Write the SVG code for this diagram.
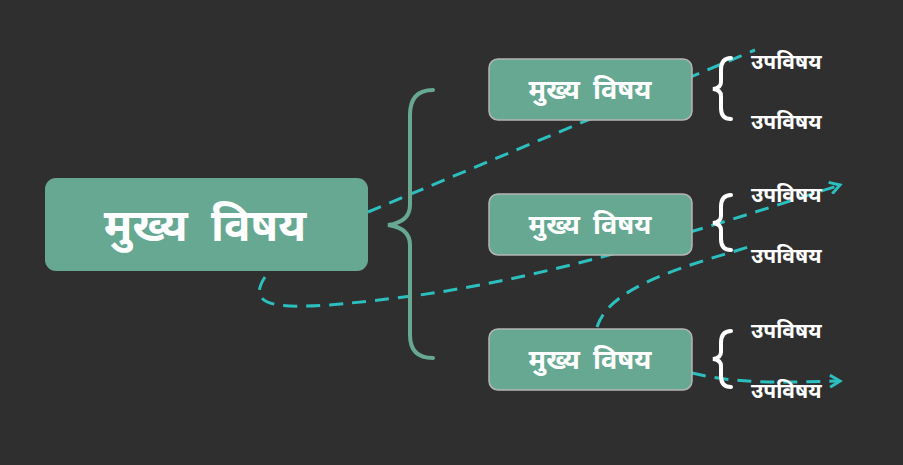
<svg xmlns="http://www.w3.org/2000/svg" width="903" height="465" viewBox="0 0 903 465">
<defs>
<style>
.node{fill:#66a892}
.branch{fill:#66a892;stroke:#b5b5b5;stroke-width:1.5}
.t{fill:#ffffff;font-family:"Noto Sans","DejaVu Sans",sans-serif;font-weight:bold;text-anchor:middle}
.sub{fill:#ffffff;font-family:"Noto Sans","DejaVu Sans",sans-serif;font-size:21px;font-weight:bold}
.brace{fill:none;stroke:#ffffff;stroke-width:4;stroke-linecap:round}
.dash{fill:none;stroke:#2bbfbf;stroke-width:3;stroke-dasharray:14 9}
</style>
<marker id="arr" markerWidth="14" markerHeight="14" refX="11" refY="7" orient="auto" markerUnits="userSpaceOnUse">
<path d="M1,1 L11,7 L1,13" fill="none" stroke="#2bbfbf" stroke-width="3"/>
</marker>
</defs>
<rect width="903" height="465" fill="#2f2f2f"/>
<g id="connectors">
<path class="dash" d="M368,212 L755,50"/>
<path class="dash" d="M265,277 C240,315 300,310 420,295 C560,275 700,230 840,185" marker-end="url(#arr)"/>
<path class="dash" d="M597,327 C610,285 690,265 755,245"/>
<path class="dash" d="M692,373 C740,385 790,382 840,381" marker-end="url(#arr)"/>
</g>
<g id="main-brace">
<path d="M433,90 Q410,90 410,115 L410,205 Q410,222 388,225 Q410,228 410,245 L410,335 Q410,358 433,358" fill="none" stroke="#66a892" stroke-width="4" stroke-linecap="round"/>
</g>
<g id="main">
<rect class="node" x="45" y="178" width="323" height="93" rx="11"/>
<text class="t" x="205" y="241" font-size="44" word-spacing="12">मुख्य विषय</text>
</g>
<g id="branch1">
<rect class="branch" x="489" y="59" width="203" height="61" rx="9"/>
<text class="t" x="590" y="99" font-size="27" word-spacing="6">मुख्य विषय</text>
</g>
<g id="branch2">
<rect class="branch" x="489" y="194" width="203" height="61" rx="9"/>
<text class="t" x="590" y="234" font-size="27" word-spacing="6">मुख्य विषय</text>
</g>
<g id="branch3">
<rect class="branch" x="489" y="329" width="203" height="61" rx="9"/>
<text class="t" x="590" y="369" font-size="27" word-spacing="6">मुख्य विषय</text>
</g>
<g id="brace1"><path class="brace" d="M731,58 Q721,58 721,70 L721,82 Q721,88 713,89 Q721,90 721,96 L721,108 Q721,119 731,119"/></g>
<g id="brace2"><path class="brace" d="M731,195 Q721,195 721,207 L721,216 Q721,222 713,223 Q721,224 721,230 L721,239 Q721,250 731,250"/></g>
<g id="brace3"><path class="brace" d="M731,331 Q721,331 721,343 L721,352 Q721,358 713,359 Q721,360 721,366 L721,376 Q721,387 731,387"/></g>
<g id="sub1a"><text class="sub" x="751" y="69">उपविषय</text></g>
<g id="sub1b"><text class="sub" x="751" y="129">उपविषय</text></g>
<g id="sub2a"><text class="sub" x="751" y="202">उपविषय</text></g>
<g id="sub2b"><text class="sub" x="751" y="263">उपविषय</text></g>
<g id="sub3a"><text class="sub" x="751" y="338">उपविषय</text></g>
<g id="sub3b"><text class="sub" x="751" y="398">उपविषय</text></g>
</svg>
